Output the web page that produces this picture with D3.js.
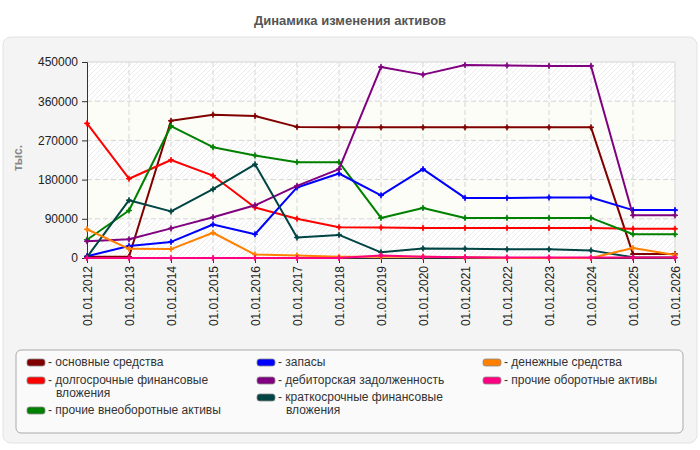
<!DOCTYPE html>
<html lang="ru">
<head>
<meta charset="UTF-8">
<title>Динамика изменения активов</title>
<script src="https://d3js.org/d3.v7.min.js"></script>
<style>
  body { margin: 0; background: #fff; }
  text { font-family: "Liberation Sans", Arial, sans-serif; }
</style>
</head>
<body>
<script>
// данные, тыс.
var years = ["01.01.2012", "01.01.2013", "01.01.2014", "01.01.2015", "01.01.2016",
  "01.01.2017", "01.01.2018", "01.01.2019", "01.01.2020", "01.01.2021",
  "01.01.2022", "01.01.2023", "01.01.2024", "01.01.2025", "01.01.2026"];
var yTicks = [0, 90000, 180000, 270000, 360000, 450000];

var osnovnye      = [3000, 3000, 315000, 329000, 326000, 301000, 300000, 300000, 300000, 300000, 300000, 300000, 300000, 9000, 9000];
var dolgosrochnye = [309000, 182000, 225000, 189000, 116000, 90000, 70500, 70000, 69000, 69000, 69000, 69000, 69000, 67000, 67000];
var prochieVneob  = [42000, 109000, 303000, 254500, 235500, 220000, 220000, 92000, 115000, 92000, 92000, 92000, 92000, 54500, 54500];
var zapasy        = [4000, 27600, 37000, 77000, 54500, 162000, 194000, 144000, 204000, 138000, 138000, 139000, 139000, 110000, 110000];
var debitorka     = [38500, 43000, 68000, 93500, 121000, 165500, 204000, 438500, 421000, 443000, 442000, 441000, 441000, 98000, 98000];
var kratkosroch   = [2000, 132700, 107000, 158000, 215000, 47000, 53000, 13000, 22000, 21500, 20000, 20000, 17500, 1500, 1000];
var denezhnye     = [66000, 21000, 20500, 58000, 8000, 6000, 3000, 3000, 3000, 1500, 0, 0, 0, 23000, 7000];
var prochieOborot = [0, 0, 0, 0, 0, 0, 0, 6000, 3000, 2000, 1000, 1000, 1000, 1000, 1000];

var series = [
  { name: "основные средства", values: osnovnye, color: "#800000" },
  { name: "долгосрочные финансовые|вложения", values: dolgosrochnye, color: "#ff0000" },
  { name: "прочие внеоборотные активы", values: prochieVneob, color: "#008000" },
  { name: "запасы", values: zapasy, color: "#0000ff" },
  { name: "дебиторская задолженность", values: debitorka, color: "#800080" },
  { name: "краткосрочные финансовые|вложения", values: kratkosroch, color: "#004444" },
  { name: "денежные средства", values: denezhnye, color: "#ff8000" },
  { name: "прочие оборотные активы", values: prochieOborot, color: "#ff0080" }
];

var w = 700, h = 450;
var pLeft = 87, pRight = 675, pTop = 62, pBottom = 258;

var svg = d3.select("body").append("svg")
  .attr("width", w).attr("height", h);

var defs = svg.append("defs");
var pat = defs.append("pattern")
  .attr("id", "hatch")
  .attr("patternUnits", "userSpaceOnUse")
  .attr("width", 5).attr("height", 5);
pat.append("rect").attr("width", 5).attr("height", 5).attr("fill", "#ffffff");
pat.append("path").attr("d", "M-1,1 l2,-2 M0,5 l5,-5 M4,6 l2,-2")
  .attr("stroke", "#ececec").attr("stroke-width", 1);

// фон панели
svg.append("rect")
  .attr("x", 3).attr("y", 37).attr("width", 694).attr("height", 406)
  .attr("rx", 8).attr("fill", "#f4f4f4").attr("stroke", "#e2e2e2");

svg.append("text")
  .attr("x", 350).attr("y", 25)
  .attr("text-anchor", "middle")
  .attr("font-size", "13px").attr("font-weight", "bold")
  .attr("fill", "#555")
  .text("Динамика изменения активов");

var x = d3.scalePoint().domain(years).range([pLeft, pRight]);
var y = d3.scaleLinear().domain([0, 450000]).range([pBottom, pTop]);

// полосы
var bands = d3.pairs(yTicks);
svg.selectAll("rect.band")
  .data(bands)
  .enter()
  .append("rect")
  .attr("class", "band")
  .attr("x", pLeft)
  .attr("width", pRight - pLeft)
  .attr("y", function (d) { return y(d[1]); })
  .attr("height", function (d) { return y(d[0]) - y(d[1]); })
  .attr("fill", function (d, i) { return i % 2 == 0 ? "url(#hatch)" : "#fcfdf6"; });

// сетка
svg.selectAll("line.hgrid")
  .data(yTicks.slice(1))
  .enter()
  .append("line")
  .attr("x1", pLeft).attr("x2", pRight)
  .attr("y1", function (d) { return y(d); })
  .attr("y2", function (d) { return y(d); })
  .attr("stroke", "#d6d6d6")
  .attr("stroke-dasharray", function (d) { return d == 450000 ? null : "5,3"; });

svg.selectAll("line.vgrid")
  .data(years.slice(1))
  .enter()
  .append("line")
  .attr("y1", pTop).attr("y2", pBottom)
  .attr("x1", function (d) { return x(d); })
  .attr("x2", function (d) { return x(d); })
  .attr("stroke", "#d6d6d6")
  .attr("stroke-dasharray", function (d, i) { return i == years.length - 2 ? null : "5,3"; });

// оси
var yAxis = svg.append("g")
  .attr("transform", "translate(" + pLeft + ",0)")
  .call(d3.axisLeft(y).tickValues(yTicks).tickSize(5).tickPadding(4).tickFormat(d3.format("d")));
yAxis.select(".domain").attr("stroke", "#333");
yAxis.selectAll(".tick line").attr("stroke", "#333");
yAxis.selectAll("text")
  .attr("font-family", "'Liberation Sans', Arial, sans-serif")
  .attr("font-size", "12px").attr("fill", "#222");

var xAxis = svg.append("g")
  .attr("transform", "translate(0," + pBottom + ")")
  .call(d3.axisBottom(x).tickSize(5).tickSizeOuter(0));
xAxis.select(".domain").attr("stroke", "#333");
xAxis.selectAll(".tick line").attr("stroke", "#333");
xAxis.selectAll("text")
  .attr("font-family", "'Liberation Sans', Arial, sans-serif")
  .attr("font-size", "12px").attr("fill", "#222")
  .attr("text-anchor", "end")
  .attr("transform", "rotate(-90)")
  .attr("x", -8).attr("y", 0).attr("dy", "0.35em");

svg.append("text")
  .attr("transform", "translate(22,158) rotate(-90)")
  .attr("text-anchor", "middle")
  .attr("font-size", "12px").attr("font-weight", "bold")
  .attr("fill", "#888")
  .text("тыс.");

// линии
var line = d3.line()
  .x(function (d, i) { return x(years[i]); })
  .y(function (d) { return y(d); });

var star = "M0,-3L0.8,-0.8L3,0L0.8,0.8L0,3L-0.8,0.8L-3,0L-0.8,-0.8Z";

series.forEach(function (s) {
  var g = svg.append("g");
  g.append("path")
    .attr("d", line(s.values))
    .attr("fill", "none")
    .attr("stroke", s.color)
    .attr("stroke-width", 2)
    .attr("stroke-linejoin", "round");
  g.selectAll("path.pt")
    .data(s.values)
    .enter()
    .append("path")
    .attr("class", "pt")
    .attr("d", star)
    .attr("transform", function (d, i) { return "translate(" + x(years[i]) + "," + y(d) + ")"; })
    .attr("fill", s.color)
    .attr("stroke", s.color)
    .attr("stroke-width", 0.8);
});

// легенда
svg.append("rect")
  .attr("x", 16).attr("y", 350).attr("width", 667).attr("height", 83)
  .attr("rx", 5).attr("fill", "#fafafa").attr("stroke", "#aaaaaa");

var colX = [27, 257, 483];
var legendPos = [
  [0, 366], [0, 384], [0, 414],
  [1, 366], [1, 384], [1, 401],
  [2, 366], [2, 384]
];

series.forEach(function (s, i) {
  var cx = colX[legendPos[i][0]], by = legendPos[i][1];
  svg.append("rect")
    .attr("x", cx).attr("y", by - 7)
    .attr("width", 18).attr("height", 7)
    .attr("rx", 2.5)
    .attr("fill", s.color)
    .attr("stroke", "#888").attr("stroke-width", 0.8);
  var lines = s.name.split("|");
  var t = svg.append("text")
    .attr("x", cx + 21).attr("y", by)
    .attr("font-size", "12px").attr("fill", "#333");
  lines.forEach(function (l, k) {
    t.append("tspan")
      .attr("x", k == 0 ? cx + 21 : cx + 29)
      .attr("dy", k == 0 ? 0 : 12.5)
      .text(k == 0 ? "- " + l : l);
  });
});
</script>
</body>
</html>
